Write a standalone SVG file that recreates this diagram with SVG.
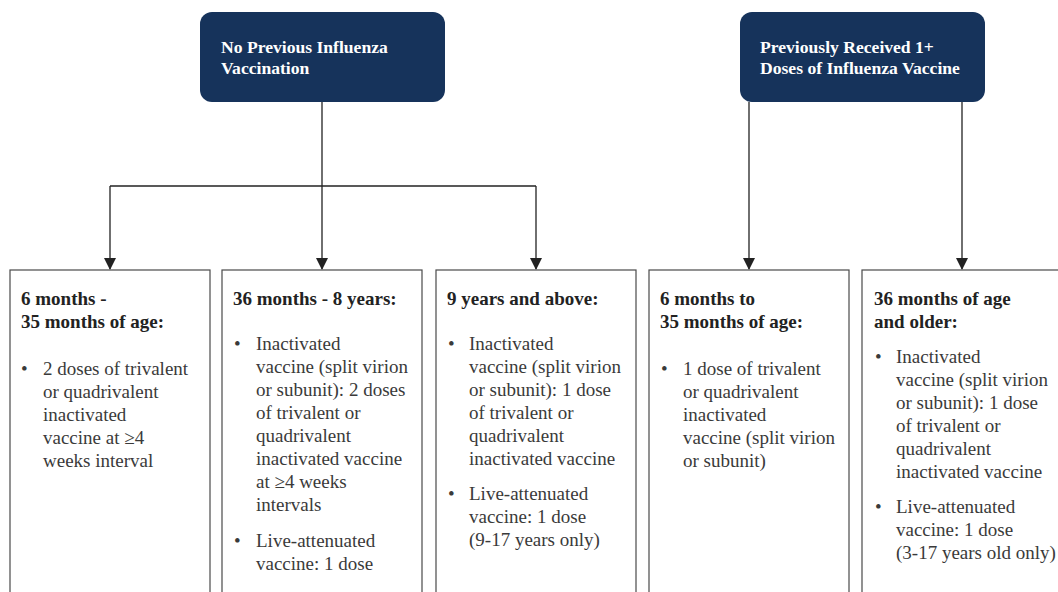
<svg xmlns="http://www.w3.org/2000/svg" width="1058" height="592" viewBox="0 0 1058 592">
  <style>
    .hdr { fill: #16335b; }
    .hdr-text { font-family: 'Liberation Serif', 'Times New Roman', Times, 'DejaVu Serif', serif; font-weight: bold; font-size: 17.6px; fill: #ffffff; }
    .box { fill: #ffffff; stroke: #4a4a4a; stroke-width: 1.2; }
    .title { font-family: 'Liberation Serif', 'Times New Roman', Times, 'DejaVu Serif', serif; font-weight: bold; font-size: 19px; fill: #222222; }
    .body { font-family: 'Liberation Serif', 'Times New Roman', Times, 'DejaVu Serif', serif; font-size: 19px; fill: #3a3a3a; }
    .link { fill: none; stroke: #222222; stroke-width: 1.3; }
  </style>
  <defs>
    <marker id="arrow" viewBox="0 0 12 12" refX="11" refY="6" markerWidth="12" markerHeight="13" markerUnits="userSpaceOnUse" orient="auto">
      <path d="M0,0 L12,6 L0,12 Z" fill="#222222"/>
    </marker>
  </defs>
  <rect width="1058" height="592" fill="#ffffff"/>

  <!-- connectors -->
  <g id="connectors">
    <path class="link" d="M322,102 V269" marker-end="url(#arrow)"/>
    <path class="link" d="M110,186 H536"/>
    <path class="link" d="M110,186 V269" marker-end="url(#arrow)"/>
    <path class="link" d="M536,186 V269" marker-end="url(#arrow)"/>
    <path class="link" d="M749,102 V269" marker-end="url(#arrow)"/>
    <path class="link" d="M962,102 V269" marker-end="url(#arrow)"/>
  </g>

  <!-- header nodes -->
  <g id="no-previous">
    <rect class="hdr" x="200" y="12" width="245" height="90" rx="12"/>
    <text class="hdr-text" x="221" y="53">No Previous Influenza</text>
    <text class="hdr-text" x="221" y="74">Vaccination</text>
  </g>
  <g id="previously-received">
    <rect class="hdr" x="740" y="12" width="245" height="90" rx="12"/>
    <text class="hdr-text" x="760" y="53">Previously Received 1+</text>
    <text class="hdr-text" x="760" y="74">Doses of Influenza Vaccine</text>
  </g>

  <!-- age group nodes -->
  <g id="age-6-35-none">
    <rect class="box" x="10" y="270" width="200" height="340"/>
    <text class="title" x="21" y="305">6 months -</text>
    <text class="title" x="21" y="328">35 months of age:</text>
    <text class="body" x="21" y="375">•</text>
    <text class="body" x="43" y="375">2 doses of trivalent</text>
    <text class="body" x="43" y="398">or quadrivalent</text>
    <text class="body" x="43" y="421">inactivated</text>
    <text class="body" x="43" y="444">vaccine at ≥4</text>
    <text class="body" x="43" y="467">weeks interval</text>
  </g>

  <g id="age-36m-8y">
    <rect class="box" x="222" y="270" width="200" height="340"/>
    <text class="title" x="233" y="305">36 months - 8 years:</text>
    <text class="body" x="234" y="350">•</text>
    <text class="body" x="256" y="350">Inactivated</text>
    <text class="body" x="256" y="373">vaccine (split virion</text>
    <text class="body" x="256" y="396">or subunit): 2 doses</text>
    <text class="body" x="256" y="419">of trivalent or</text>
    <text class="body" x="256" y="442">quadrivalent</text>
    <text class="body" x="256" y="465">inactivated vaccine</text>
    <text class="body" x="256" y="488">at ≥4 weeks</text>
    <text class="body" x="256" y="511">intervals</text>
    <text class="body" x="234" y="547">•</text>
    <text class="body" x="256" y="547">Live-attenuated</text>
    <text class="body" x="256" y="570">vaccine: 1 dose</text>
  </g>

  <g id="age-9y-plus">
    <rect class="box" x="436" y="270" width="200" height="340"/>
    <text class="title" x="447" y="305">9 years and above:</text>
    <text class="body" x="448" y="350">•</text>
    <text class="body" x="469" y="350">Inactivated</text>
    <text class="body" x="469" y="373">vaccine (split virion</text>
    <text class="body" x="469" y="396">or subunit): 1 dose</text>
    <text class="body" x="469" y="419">of trivalent or</text>
    <text class="body" x="469" y="442">quadrivalent</text>
    <text class="body" x="469" y="465">inactivated vaccine</text>
    <text class="body" x="448" y="500">•</text>
    <text class="body" x="469" y="500">Live-attenuated</text>
    <text class="body" x="469" y="523">vaccine: 1 dose</text>
    <text class="body" x="469" y="546">(9-17 years only)</text>
  </g>

  <g id="age-6-35-prev">
    <rect class="box" x="649" y="270" width="200" height="340"/>
    <text class="title" x="660" y="305">6 months to</text>
    <text class="title" x="660" y="328">35 months of age:</text>
    <text class="body" x="661" y="375">•</text>
    <text class="body" x="683" y="375">1 dose of trivalent</text>
    <text class="body" x="683" y="398">or quadrivalent</text>
    <text class="body" x="683" y="421">inactivated</text>
    <text class="body" x="683" y="444">vaccine (split virion</text>
    <text class="body" x="683" y="467">or subunit)</text>
  </g>

  <g id="age-36m-plus">
    <rect class="box" x="862" y="270" width="200" height="340"/>
    <text class="title" x="874" y="305">36 months of age</text>
    <text class="title" x="874" y="328">and older:</text>
    <text class="body" x="875" y="363">•</text>
    <text class="body" x="896" y="363">Inactivated</text>
    <text class="body" x="896" y="386">vaccine (split virion</text>
    <text class="body" x="896" y="409">or subunit): 1 dose</text>
    <text class="body" x="896" y="432">of trivalent or</text>
    <text class="body" x="896" y="455">quadrivalent</text>
    <text class="body" x="896" y="478">inactivated vaccine</text>
    <text class="body" x="875" y="513">•</text>
    <text class="body" x="896" y="513">Live-attenuated</text>
    <text class="body" x="896" y="536">vaccine: 1 dose</text>
    <text class="body" x="896" y="559">(3-17 years old only)</text>
  </g>
</svg>
